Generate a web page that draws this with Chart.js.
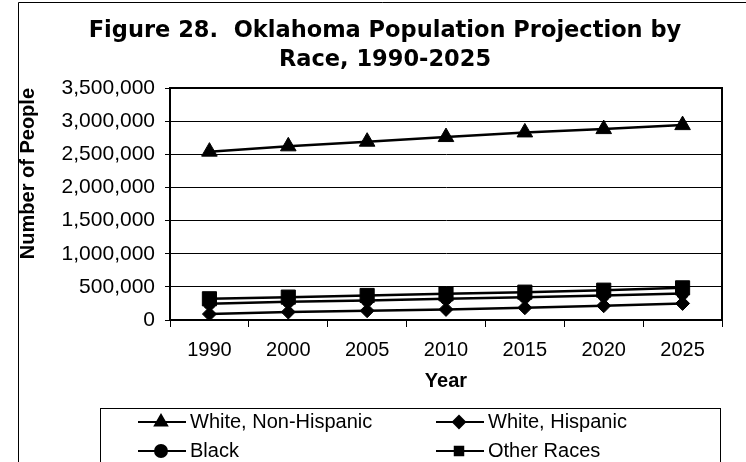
<!DOCTYPE html>
<html>
<head>
<meta charset="utf-8">
<script src="https://cdn.jsdelivr.net/npm/chart.js@4"></script>
<style>
  html, body { margin: 0; padding: 0; background: #fff; }
  #wrap { width: 746px; height: 462px; position: relative; }
</style>
</head>
<body>
<div id="wrap"><canvas id="chart" width="746" height="462"></canvas></div>
<script>
const years = ['1990', '2000', '2005', '2010', '2015', '2020', '2025'];
const whiteNonHispanic = [2540000, 2620000, 2690000, 2760000, 2830000, 2880000, 2940000];
const whiteHispanic = [90000, 120000, 140000, 160000, 185000, 215000, 250000];
const black = [245000, 275000, 295000, 320000, 345000, 370000, 400000];
const otherRaces = [320000, 345000, 370000, 395000, 420000, 450000, 485000];
const seriesNames = ['White, Non-Hispanic', 'White, Hispanic', 'Black', 'Other Races'];
const titleLines = ['Figure 28.  Oklahoma Population Projection by', 'Race, 1990-2025'];

const fontFamily = '"Liberation Sans", Arial, sans-serif';

function line(label, data, style, radius, order) {
    return {
        label: label,
        data: data,
        borderColor: '#000',
        backgroundColor: '#000',
        borderWidth: 2.5,
        pointStyle: style,
        pointRadius: radius,
        pointBorderWidth: 1,
        pointBackgroundColor: '#000',
        pointBorderColor: '#000',
        tension: 0,
        order: order
    };
}

// frame, title, plot box and the boxed legend under the axis
const extras = {
    id: 'extras',
    afterDraw(chart) {
        const ctx = chart.ctx;
        const a = chart.chartArea;
        ctx.save();
        ctx.strokeStyle = '#000';
        ctx.fillStyle = '#000';
        ctx.lineWidth = 1;
        ctx.beginPath();
        ctx.moveTo(18.5, 462); ctx.lineTo(18.5, 2.5); ctx.lineTo(746, 2.5);
        ctx.stroke();

        ctx.font = 'bold 22.5px "DejaVu Sans", sans-serif';
        ctx.textAlign = 'center';
        ctx.textBaseline = 'middle';
        ctx.fillText(titleLines[0], 385, 31);
        ctx.fillText(titleLines[1], 385, 60);

        ctx.lineWidth = 2;
        ctx.strokeRect(a.left, a.top, a.right - a.left, a.bottom - a.top);

        ctx.lineWidth = 1;
        ctx.strokeRect(100.5, 408.5, 620, 70);

        const cols = [138, 436];
        const rows = [422, 451];
        ctx.font = '20px ' + fontFamily;
        ctx.textAlign = 'left';
        chart.data.datasets.forEach((ds, i) => {
            const x = cols[i % 2];
            const y = rows[Math.floor(i / 2)];
            ctx.lineWidth = 2;
            ctx.beginPath();
            ctx.moveTo(x, y); ctx.lineTo(x + 48, y);
            ctx.stroke();
            Chart.helpers.drawPoint(ctx, {
                pointStyle: ds.pointStyle,
                radius: ds.pointStyle === 'triangle' ? 7 : 6,
                borderWidth: 1
            }, x + 23, y);
            ctx.fill();
            ctx.fillText(ds.label, x + 52, y);
        });
        ctx.restore();
    }
};

new Chart(document.getElementById('chart'), {
    type: 'line',
    data: {
        labels: years,
        datasets: [
            line(seriesNames[0], whiteNonHispanic, 'triangle', 9, 1),
            line(seriesNames[1], whiteHispanic, 'rectRot', 7, 2),
            line(seriesNames[2], black, 'circle', 6, 3),
            line(seriesNames[3], otherRaces, 'rect', 10, 0)
        ]
    },
    options: {
        responsive: false,
        animation: false,
        layout: { padding: { left: 16, right: 24, top: 88, bottom: 54 } },
        plugins: {
            legend: { display: false },
            tooltip: { enabled: false },
            title: { display: false }
        },
        scales: {
            x: {
                offset: true,
                grid: { drawOnChartArea: false, color: '#000', tickLength: 7, offset: true },
                border: { color: '#000', width: 2 },
                ticks: { color: '#000', font: { family: fontFamily, size: 20 }, padding: 11, maxRotation: 0 },
                title: {
                    display: true, text: 'Year', color: '#000',
                    font: { family: fontFamily, size: 20, weight: 'bold' },
                    padding: { top: 4, bottom: 15 }
                },
                afterFit(scale) { scale.height = 88; }
            },
            y: {
                min: 0,
                max: 3500000,
                ticks: {
                    stepSize: 500000,
                    color: '#000',
                    font: { family: fontFamily, size: 21 },
                    padding: 10,
                    callback: v => v.toLocaleString('en-US')
                },
                grid: { color: '#000', lineWidth: 1, tickLength: 5 },
                border: { color: '#000', width: 2 },
                title: {
                    display: true, text: 'Number of People', color: '#000', align: 'end',
                    font: { family: fontFamily, size: 20, weight: 'bold' },
                    padding: { top: 0, bottom: 4 }
                },
                afterFit(scale) { scale.width = 154; }
            }
        }
    },
    plugins: [extras]
});
</script>
</body>
</html>
